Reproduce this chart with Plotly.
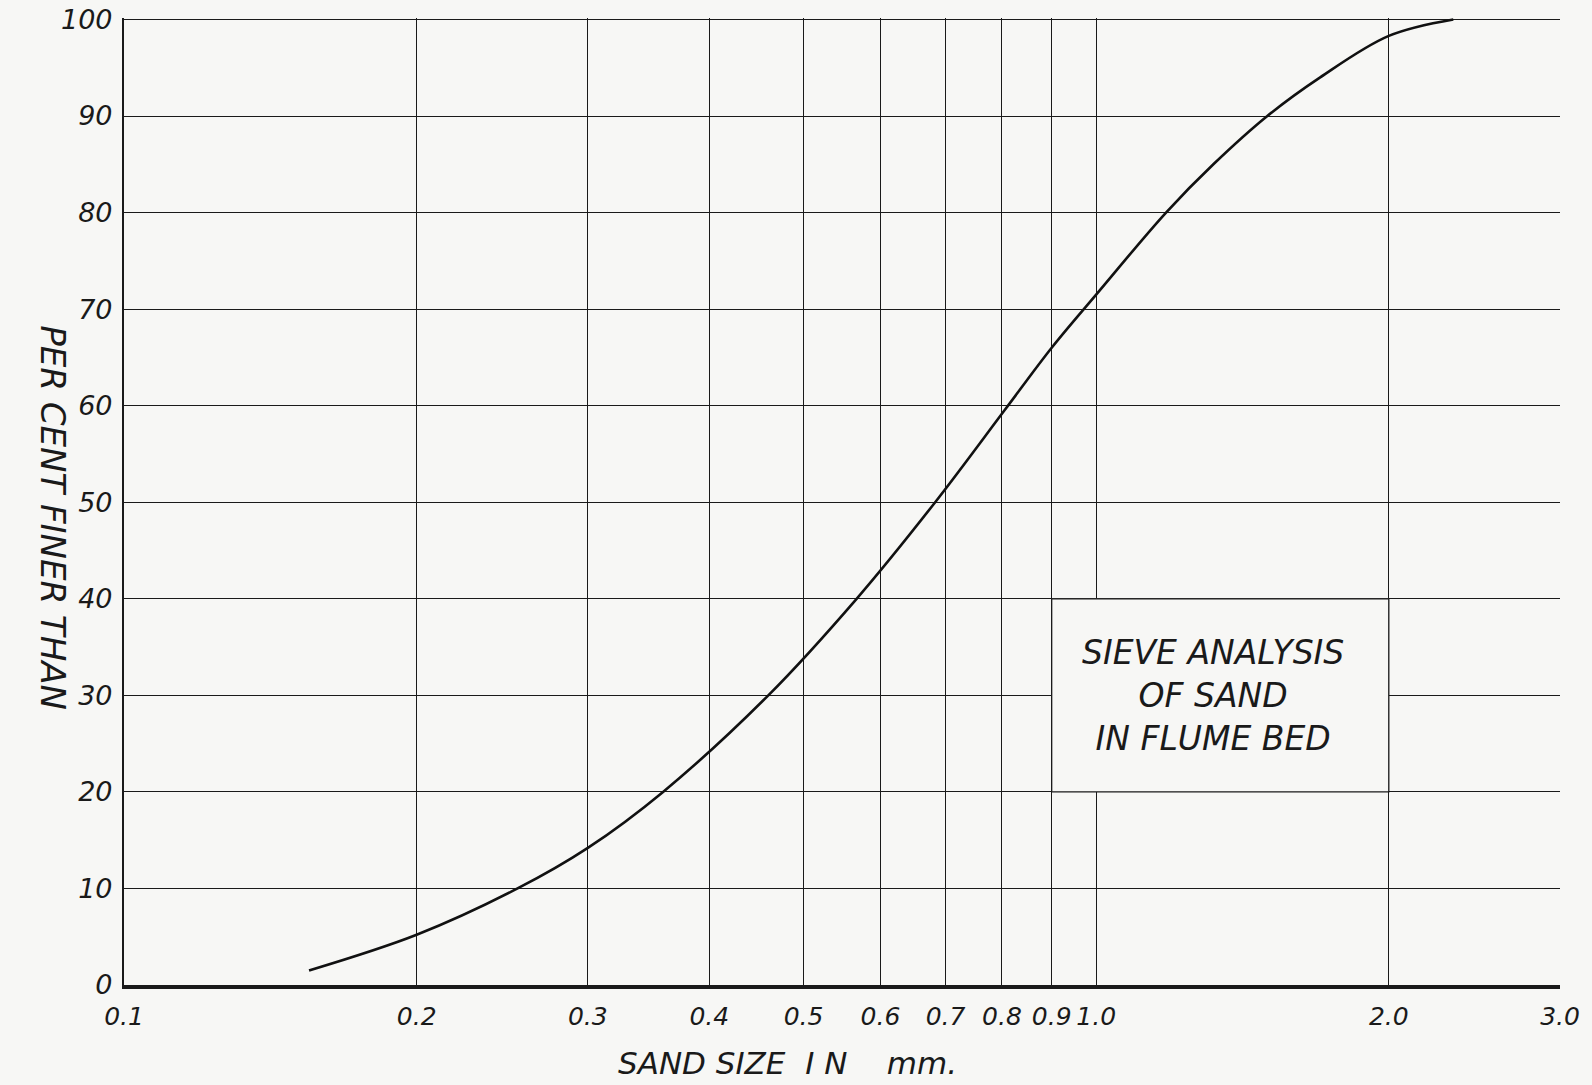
import math
import plotly.graph_objects as go

# Sieve analysis curve (sand size mm, percent finer)
size_mm = [0.155, 0.2, 0.254, 0.3, 0.3585, 0.46, 0.567, 0.683, 0.806, 0.9, 1.0,
           1.18, 1.32, 1.5, 1.7, 2.0, 2.33]
pct_finer = [1.5, 5.2, 10.0, 14.2, 20.0, 30.0, 40.0, 50.0, 59.6, 66.0, 71.5,
             80.0, 85.0, 90.0, 94.0, 98.3, 100.0]

x_ticks = [0.1, 0.2, 0.3, 0.4, 0.5, 0.6, 0.7, 0.8, 0.9, 1.0, 2.0, 3.0]
x_tick_text = ["0.1", "0.2", "0.3", "0.4", "0.5", "0.6", "0.7", "0.8", "0.9", "1.0", "2.0", "3.0"]
y_ticks = [0, 10, 20, 30, 40, 50, 60, 70, 80, 90, 100]
y_tick_text = ["0", "10", "20", "30", "40", "50", "60", "70", "80", "90", "100"]

# label box region (between gridlines)
box_x = [0.9, 2.0, 2.0, 0.9, 0.9]
box_y = [20, 20, 40, 40, 20]
label_lines = ["SIEVE ANALYSIS", "OF SAND", "IN FLUME BED"]

INK = "#1a1a1a"
PAPER = "#f7f7f5"
FONT = "DejaVu Sans"

fig = go.Figure()

fig.add_trace(go.Scatter(
    x=box_x, y=box_y, mode="lines", fill="toself", fillcolor=PAPER,
    line=dict(color=INK, width=1.3), hoverinfo="skip", showlegend=False))

fig.add_trace(go.Scatter(
    x=size_mm, y=pct_finer, mode="lines",
    line=dict(color="#111111", width=2.6, shape="spline", smoothing=1.0),
    showlegend=False))

fig.add_annotation(
    x=math.log10(1.32), y=30.0, xref="x", yref="y",
    text="<br>".join(label_lines), showarrow=False,
    font=dict(family=FONT, size=33, color=INK, style="italic"),
    align="center")

fig.add_annotation(
    x=-0.065, y=0.483, xref="paper", yref="paper",
    text="PER CENT FINER THAN", textangle=90, showarrow=False,
    font=dict(family=FONT, size=34, color=INK, style="italic"))

fig.add_annotation(
    x=0.462, y=-0.081, xref="paper", yref="paper", yanchor="middle",
    text="SAND SIZE &nbsp;I N &nbsp;&nbsp; mm.", showarrow=False,
    font=dict(family=FONT, size=31, color=INK, style="italic"))

fig.update_xaxes(
    type="log", range=[math.log10(0.1), math.log10(3.0)],
    tickvals=x_ticks, ticktext=x_tick_text,
    showgrid=True, gridcolor=INK, gridwidth=1.3,
    showline=True, linecolor=INK, linewidth=3.5,
    ticks="", ticklabelstandoff=6, automargin=False, ticklabeloverflow="allow",
    tickfont=dict(family=FONT, size=25, color=INK, style="italic"),
    zeroline=False, mirror=False)

fig.update_yaxes(
    range=[0, 100.15], tickvals=y_ticks, ticktext=y_tick_text,
    showgrid=True, gridcolor=INK, gridwidth=1.4,
    showline=True, linecolor=INK, linewidth=2.2,
    ticks="", ticklabelstandoff=4, automargin=False, ticklabeloverflow="allow",
    tickfont=dict(family=FONT, size=27, color=INK, style="italic"),
    zeroline=False)

fig.update_layout(
    width=1592, height=1085,
    margin=dict(l=124, r=32, t=18, b=100, autoexpand=False),
    paper_bgcolor=PAPER, plot_bgcolor=PAPER,
    showlegend=False)

fig.write_html(
    "out.html",
    config={"displayModeBar": False},
    post_script="document.body.style.margin='0';document.body.style.background='#f7f7f5';document.body.style.overflow='hidden';")
